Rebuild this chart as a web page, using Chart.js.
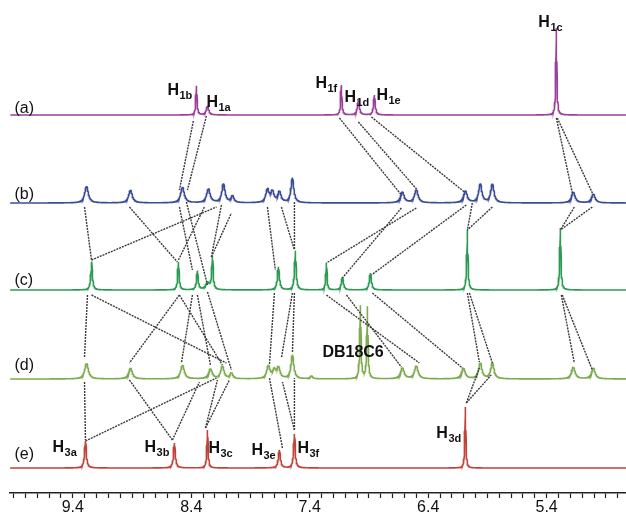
<!DOCTYPE html>
<html><head><meta charset="utf-8">
<script src="https://cdn.jsdelivr.net/npm/chart.js@4/dist/chart.umd.min.js"></script>
<style>html,body{margin:0;padding:0;background:#fff;}canvas{display:block;}</style>
</head><body>
<canvas id="c" width="626" height="518"></canvas>
<script>
// ---- Data (chemical shift in ppm, peak intensity, line half-width in ppm) ----
const peaksA_ppm = [8.356, 8.263, 7.133, 6.989, 6.854, 5.318];
const peaksA_int = [29, 9, 30, 15, 20, 87];
const peaksA_w   = [0.006, 0.012, 0.006, 0.010, 0.008, 0.005];

const peaksB_ppm = [9.284, 8.913, 8.474, 8.255, 8.128, 8.052, 7.757, 7.715, 7.656, 7.546, 6.618, 6.500, 6.086, 5.960, 5.858, 5.175, 5.006];
const peaksB_int = [17, 13, 16, 14, 19, 7, 13, 11, 11, 25, 11, 13, 12, 19, 19, 11, 9];
const peaksB_w   = [0.018, 0.018, 0.018, 0.018, 0.016, 0.014, 0.016, 0.016, 0.016, 0.014, 0.018, 0.018, 0.018, 0.016, 0.016, 0.018, 0.018];

const peaksC_ppm = [9.241, 8.508, 8.348, 8.263, 8.221, 7.664, 7.521, 7.259, 7.124, 6.888, 6.069, 5.284];
const peaksC_int = [28, 28, 19, 7, 33, 23, 39, 27, 13, 17, 60, 62];
const peaksC_w   = [0.008, 0.007, 0.008, 0.020, 0.007, 0.010, 0.008, 0.006, 0.010, 0.010, 0.006, 0.006];

const peaksD_ppm = [9.284, 8.913, 8.474, 8.238, 8.137, 8.061, 7.749, 7.700, 7.664, 7.546, 7.386, 6.972, 6.913, 6.618, 6.500, 6.103, 5.960, 5.858, 5.175, 5.006];
const peaksD_int = [16, 11, 14, 10, 13, 6, 13, 8, 11, 24, 3, 73, 72, 11, 13, 11, 16, 16, 12, 11];
const peaksD_w   = [0.018, 0.018, 0.018, 0.018, 0.016, 0.014, 0.016, 0.016, 0.016, 0.014, 0.012, 0.006, 0.006, 0.018, 0.018, 0.018, 0.016, 0.016, 0.018, 0.018];

const peaksE_ppm = [9.293, 8.542, 8.263, 7.656, 7.529, 6.086];
const peaksE_int = [27, 25, 38, 18, 34, 61];
const peaksE_w   = [0.009, 0.009, 0.006, 0.010, 0.008, 0.005];

// Dotted correlation lines between spectra: [from ppm, from level, to ppm, to level]
const linksFromPpm = [8.382,8.272,7.149,6.989,6.879,5.318,5.310, 9.301,8.922,9.242,8.500,8.441,8.508,8.230,8.230,7.757,7.639,7.529,6.500,6.626,6.078,6.027,5.858,5.166,5.014, 9.276,9.242,8.500,8.500,8.390,8.348,8.263,7.698,7.546,7.529,7.259,7.090,6.871,6.069,6.052,5.276,5.268, 9.301,9.293,8.922,8.559,8.280,8.280,7.630,7.529,7.529,6.078,6.078];
const linksFromLev = [372,377,375,371,376,375,375, 286,286,233,286,291,233,236,236,286,286,291,285,285,288,290,286,286,286, 198,198,198,198,198,198,201,200,200,200,198,198,200,200,200,198,198, 111,52,113,53,65,65,45,63,63,90,90];
const linksToPpm   = [8.500,8.432,6.626,6.491,6.094,5.183,5.014, 9.242,8.517,8.187,8.390,8.263,8.289,8.145,8.061,7.690,7.529,7.529,7.259,7.124,6.879,6.069,6.069,5.284,5.284, 9.301,8.103,8.922,8.137,8.483,8.238,8.061,7.740,7.639,7.546,6.474,6.626,6.111,5.968,5.858,5.166,5.014, 9.293,8.187,8.559,8.331,8.179,8.078,7.740,7.630,7.529,5.968,5.867];
const linksToLev   = [303,303,298,303,301,300,300, 233,231,286,223,208,286,288,280,223,243,243,230,215,218,263,263,263,263, 136,130,130,128,130,128,123,128,135,140,130,126,125,131,130,130,123, 53,115,53,111,113,113,115,111,115,125,118];

// Axis tick labels
const tickValues = [9.4, 8.4, 7.4, 6.4, 5.4];
const tickLabels = ['9.4', '8.4', '7.4', '6.4', '5.4'];

// ---- Layout / style configuration ----
const spectra = [
  {name:'(a)', ppm:peaksA_ppm, int:peaksA_int, w:peaksA_w, base:378, color:'#9d3f99', labelLev:380},
  {name:'(b)', ppm:peaksB_ppm, int:peaksB_int, w:peaksB_w, base:290, color:'#3b4c99', labelLev:294},
  {name:'(c)', ppm:peaksC_ppm, int:peaksC_int, w:peaksC_w, base:203, color:'#2b9a52', labelLev:208},
  {name:'(d)', ppm:peaksD_ppm, int:peaksD_int, w:peaksD_w, base:114, color:'#7dab4f', labelLev:123},
  {name:'(e)', ppm:peaksE_ppm, int:peaksE_int, w:peaksE_w, base:25,  color:'#c0433a', labelLev:34}
];
const annotations = [
  {t:'H', s:'1b', ppm:8.601, lev:398}, {t:'H', s:'1a', ppm:8.272, lev:386},
  {t:'H', s:'1f', ppm:7.352, lev:405}, {t:'H', s:'1d', ppm:7.107, lev:391},
  {t:'H', s:'1e', ppm:6.837, lev:393}, {t:'H', s:'1c', ppm:5.470, lev:466},
  {t:'H', s:'3a', ppm:9.571, lev:41},  {t:'H', s:'3b', ppm:8.795, lev:41},
  {t:'H', s:'3c', ppm:8.255, lev:40},  {t:'H', s:'3e', ppm:7.892, lev:38},
  {t:'H', s:'3f', ppm:7.504, lev:40},  {t:'H', s:'3d', ppm:6.331, lev:55},
  {t:'DB18C6', s:'', ppm:7.293, lev:136}
];
const X_MIN = 4.73, X_MAX = 9.93;
const FONT = "'Liberation Sans', Arial, Helvetica, sans-serif";

function lineShape(sp) {
  const xs = [];
  for (let i = 0; i <= 2600; i++) xs.push(X_MIN + i * 0.002);
  sp.ppm.forEach(p => xs.push(p));
  xs.sort((a, b) => a - b);
  return xs.map(x => {
    let y = sp.base;
    for (let k = 0; k < sp.ppm.length; k++) {
      const d = x - sp.ppm[k], g = sp.w[k];
      y += sp.int[k] * g * g / (d * d + g * g);
    }
    return {x, y};
  });
}

const datasets = [];
for (let i = 0; i < linksFromPpm.length; i++) {
  datasets.push({
    data: [{x: linksFromPpm[i], y: linksFromLev[i]}, {x: linksToPpm[i], y: linksToLev[i]}],
    borderColor: '#3a3a3a', borderWidth: 1.4, borderDash: [2, 1], pointRadius: 0, fill: false, tension: 0
  });
}
spectra.forEach(sp => datasets.push({
  data: lineShape(sp), borderColor: sp.color, borderWidth: 1.6, pointRadius: 0, fill: false, tension: 0
}));

const minorTicks = [];
for (let k = 48; k <= 99; k++) minorTicks.push(k / 10);

const textPlugin = {
  id: 'texts',
  afterDatasetsDraw(chart) {
    const ctx = chart.ctx, xs = chart.scales.x, ys = chart.scales.y;
    ctx.save();
    ctx.fillStyle = '#111';
    ctx.textBaseline = 'alphabetic';
    ctx.textAlign = 'left';
    spectra.forEach(sp => {
      ctx.font = '16px ' + FONT;
      ctx.fillText(sp.name, xs.getPixelForValue(9.892), ys.getPixelForValue(sp.labelLev));
    });
    annotations.forEach(a => {
      const x = xs.getPixelForValue(a.ppm), y = ys.getPixelForValue(a.lev);
      ctx.font = 'bold 16px ' + FONT;
      ctx.fillText(a.t, x, y);
      if (a.s) {
        const w = ctx.measureText(a.t).width;
        ctx.font = 'bold 11px ' + FONT;
        ctx.fillText(a.s, x + w + 0.5, y + 4);
      }
    });
    ctx.restore();
  }
};

new Chart(document.getElementById('c'), {
  type: 'line',
  data: {datasets},
  options: {
    responsive: false, animation: false, devicePixelRatio: 1,
    parsing: false, normalized: true,
    layout: {padding: {left: 10, right: 0, top: 0, bottom: 0}},
    plugins: {legend: {display: false}, tooltip: {enabled: false}},
    elements: {line: {capBezierPoints: false}},
    scales: {
      x: {
        type: 'linear', reverse: true, min: X_MIN, max: X_MAX,
        afterBuildTicks: s => { s.ticks = minorTicks.map(v => ({value: v})); },
        ticks: {
          autoSkip: false, maxRotation: 0, minRotation: 0, padding: 6, color: '#111',
          font: {family: FONT, size: 16, lineHeight: 0.5},
          callback: v => { const i = tickValues.findIndex(t => Math.abs(t - v) < 1e-6); return i >= 0 ? tickLabels[i] : ''; }
        },
        grid: {drawOnChartArea: false, drawTicks: true, tickLength: 5, tickColor: '#222', tickWidth: 1.2},
        border: {display: true, color: '#222', width: 1.5}
      },
      y: {type: 'linear', display: false, min: 0, max: 493}
    }
  },
  plugins: [textPlugin]
});
</script>
</body></html>
